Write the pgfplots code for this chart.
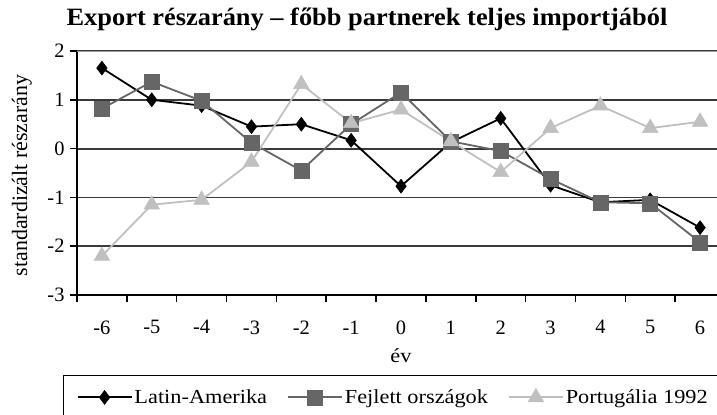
\documentclass[border=0pt]{standalone}
\usepackage{fontspec}
\setmainfont{Liberation Serif}
\newfontfamily\stretched{Liberation Serif}[FakeStretch=1.12]
\newfontfamily\titlefont{Liberation Serif}[FakeStretch=1.06]
\usepackage{pgfplots}
\usepackage{pgfplotstable}
\pgfplotsset{compat=1.18}
\definecolor{latin}{HTML}{000000}
\definecolor{fejlett}{HTML}{666666}
\definecolor{portu}{HTML}{C0C0C0}
\definecolor{gridc}{HTML}{3A3A3A}
\definecolor{topgrid}{HTML}{9A9A9A}

\pgfplotstableread{
x y
-6 1.65
-5 1.00
-4 0.88
-3 0.45
-2 0.50
-1 0.17
0 -0.77
1 0.13
2 0.62
3 -0.75
4 -1.10
5 -1.05
6 -1.62
}\latin
\pgfplotstableread{
x y
-6 0.82
-5 1.37
-4 0.98
-3 0.12
-2 -0.45
-1 0.50
0 1.15
1 0.15
2 -0.05
3 -0.62
4 -1.10
5 -1.12
6 -1.92
}\fejlett
\pgfplotstableread{
x y
-6 -2.20
-5 -1.15
-4 -1.05
-3 -0.27
-2 1.32
-1 0.52
0 0.80
1 0.15
2 -0.48
3 0.42
4 0.88
5 0.42
6 0.55
}\portu

\begin{document}
\begin{tikzpicture}
\path[use as bounding box, clip] (0,0) rectangle (717bp,415bp);
\begin{axis}[
  at={(77bp,120bp)}, anchor=south west,
  scale only axis, width=648bp, height=244bp,
  xmin=-6.5, xmax=6.5, ymin=-3, ymax=2,
  axis lines*=left,
  axis line style={black, line width=1.6bp},
  xtick={-6,...,6},
  minor xtick={-6.5,-5.5,...,6.5},
  ytick={-3,...,2},
  tick align=outside,
  major tick length=7bp,
  minor tick length=7bp,
  x tick style={draw=none},
  minor x tick style={draw=black, line width=1.6bp},
  y tick style={black, line width=1.6bp},
  ymajorgrids,
  grid style={gridc, line width=1.8bp},
  /pgf/number format/assume math mode=true,
  tick label style={font=\fontsize{20.5}{24}\selectfont},
  xticklabel style={yshift=-15bp},
  yticklabel style={xshift=-2bp},
  xlabel={év},
  xlabel style={font=\stretched\fontsize{20}{24}\selectfont, at={(axis description cs:0.5,-0.25)}, anchor=center},
  ylabel={standardizált részarány},
  ylabel style={font=\fontsize{22}{26}\selectfont, at={(axis description cs:-0.085,0.49)}, anchor=center, rotate=0},
  legend columns=3,
  legend style={at={(axis description cs:-0.0216,-0.328)}, anchor=north west,
    draw=black, line width=1.4bp, font=\stretched\fontsize{20}{24}\selectfont,
    inner xsep=13bp, inner ysep=12bp,
    /tikz/every even column/.append style={column sep=18bp}},
  legend image code/.code={\draw[mark repeat=2, mark phase=2] plot coordinates {(0bp,0bp) (27bp,0bp) (54bp,0bp)};},
]
\addplot[latin, line width=1.8bp, mark=diamond*, mark size=7bp, mark options={fill=latin, draw=latin, line width=0.5bp}] table {\latin};
\addlegendentry{Latin-Amerika}
\addplot[fejlett, line width=1.8bp, mark=square*, mark size=7.5bp, mark options={fill=fejlett, draw=fejlett, line width=0.5bp}] table {\fejlett};
\addlegendentry{Fejlett országok}
\addplot[portu, line width=1.8bp, mark=triangle*, mark size=9bp, mark options={fill=portu, draw=portu, line width=0.5bp}] table {\portu};
\addlegendentry{Portugália 1992}
\draw[topgrid, line width=2bp] (axis cs:-6.5,2) -- (axis cs:6.5,2);
\end{axis}
\node[font=\bfseries\titlefont\fontsize{25}{29}\selectfont] at (367bp,396bp) {Export részarány – főbb partnerek teljes importjából};
\end{tikzpicture}
\end{document}
